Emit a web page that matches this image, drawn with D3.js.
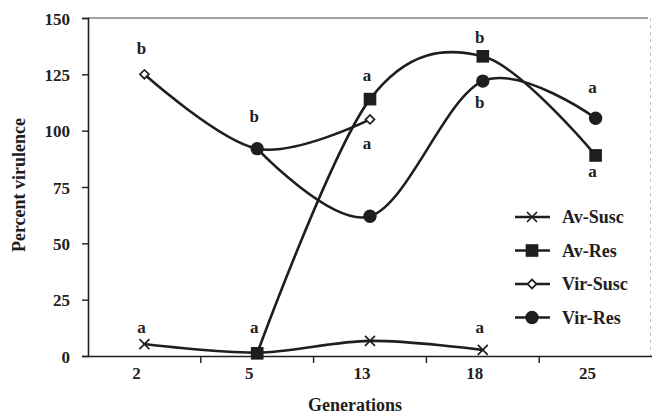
<!DOCTYPE html>
<html>
<head>
<meta charset="utf-8">
<script src="https://cdn.jsdelivr.net/npm/d3@7"></script>
<style>
  body { margin: 0; background: #fff; }
  svg text { font-family: 'Liberation Serif', 'Times New Roman', serif; font-weight: bold; }
  .tick text { font-size: 17px; fill: #222; }
</style>
</head>
<body>
<svg id="chart" width="652" height="414"></svg>
<script>
// generations on the x axis
const generations = ['2', '5', '13', '18', '25'];
const yTicks = [0, 25, 50, 75, 100, 125, 150];

// percent virulence per series (null = not measured)
const avSusc  = [5.3, 1.5, 6.7, 2.7, null];
const avRes   = [null, 1.2, 114, 133, 89];
const virSusc = [125, 92, 105, null, null];
const virRes  = [null, 92, 62, 122, 105.5];

const seriesNames = ['Av-Susc', 'Av-Res', 'Vir-Susc', 'Vir-Res'];

// significance letters
const sigText = ['b', 'b', 'a', 'a', 'b', 'b', 'a', 'a', 'a', 'a', 'a'];
const sigGen  = ['2', '5', '13', '13', '18', '18', '25', '25', '2', '5', '18'];
const sigY    = [136.5, 106, 124.5, 94, 141, 112.5, 119, 81.5, 12.5, 12.5, 12.5];

const svg = d3.select('#chart');
const mLeft = 88, mRight = 652, mTop = 18, mBottom = 356;

const x = d3.scaleBand().domain(generations).range([mLeft, mRight]).padding(0);
const y = d3.scaleLinear().domain([0, 150]).range([mBottom, mTop]);
const cx = (g) => x(g) + x.bandwidth() / 2;

const ink = '#1e1e1e';

// frame (top border and faint right border)
svg.append('line').attr('x1', mLeft).attr('x2', mRight - 4).attr('y1', mTop).attr('y2', mTop)
  .attr('stroke', '#444').attr('stroke-width', 1.2);
svg.append('line').attr('x1', mRight - 1.5).attr('x2', mRight - 1.5).attr('y1', mTop).attr('y2', mBottom)
  .attr('stroke', '#bbb').attr('stroke-width', 1).attr('stroke-dasharray', '3,4');

// y axis
const yAxis = svg.append('g')
  .attr('transform', `translate(${mLeft},0)`)
  .call(d3.axisLeft(y).tickValues(yTicks).tickSize(6).tickPadding(12));
yAxis.select('.domain').attr('stroke', ink).attr('stroke-width', 1.6);
yAxis.selectAll('.tick line').attr('stroke', ink).attr('stroke-width', 1.4);
yAxis.selectAll('.tick text').attr('dy', '0.36em');

// x axis: labels under category centres, ticks between categories
const xAxis = svg.append('g')
  .attr('transform', `translate(0,${mBottom})`)
  .call(d3.axisBottom(x).tickSize(0).tickPadding(11).tickSizeOuter(0));
xAxis.select('.domain').attr('stroke', ink).attr('stroke-width', 1.6);
xAxis.selectAll('.tick text').attr('dx', -8);
svg.append('g').selectAll('line')
  .data(generations.slice(1))
  .join('line')
  .attr('x1', (d) => x(d)).attr('x2', (d) => x(d))
  .attr('y1', mBottom).attr('y2', mBottom + 7)
  .attr('stroke', ink).attr('stroke-width', 1.4);

// axis titles
svg.append('text')
  .attr('transform', 'translate(25,185) rotate(-90)')
  .attr('text-anchor', 'middle')
  .style('font-size', '18px').attr('fill', ink)
  .text('Percent virulence');
svg.append('text')
  .attr('x', 355).attr('y', 411)
  .attr('text-anchor', 'middle')
  .style('font-size', '18px').attr('fill', ink)
  .text('Generations');

// markers
const timesPath = 'M-5,-5L5,5M-5,5L5,-5';
function marker(sel, idx) {
  if (idx === 0) {
    sel.append('path').attr('d', timesPath).attr('fill', 'none')
      .attr('stroke', ink).attr('stroke-width', 1.7);
  } else if (idx === 1) {
    sel.append('path').attr('d', d3.symbol(d3.symbolSquare, 160)).attr('fill', ink);
  } else if (idx === 2) {
    sel.append('path').attr('d', d3.symbol(d3.symbolSquare, 40)).attr('transform', 'rotate(45)')
      .attr('fill', '#fff').attr('stroke', ink).attr('stroke-width', 1.7);
  } else {
    sel.append('path').attr('d', d3.symbol(d3.symbolCircle, 140)).attr('fill', ink);
  }
}

const allSeries = [avSusc, avRes, virSusc, virRes];
const line = d3.line()
  .x((d) => cx(d.g))
  .y((d) => y(d.v))
  .curve(d3.curveCardinal.tension(0));

allSeries.forEach((vals, i) => {
  const pts = generations.map((g, j) => ({ g: g, v: vals[j] })).filter((d) => d.v !== null);
  svg.append('path')
    .datum(pts)
    .attr('d', line)
    .attr('fill', 'none')
    .attr('stroke', ink)
    .attr('stroke-width', 2.6);
});

allSeries.forEach((vals, i) => {
  const pts = generations.map((g, j) => ({ g: g, v: vals[j] })).filter((d) => d.v !== null);
  svg.append('g').selectAll('g')
    .data(pts)
    .join('g')
    .attr('transform', (d) => `translate(${cx(d.g)},${y(d.v)})`)
    .each(function () { marker(d3.select(this), i); });
});

// significance letters
svg.append('g').selectAll('text')
  .data(sigText.map((t, i) => ({ t: t, g: sigGen[i], v: sigY[i] })))
  .join('text')
  .attr('x', (d) => cx(d.g) - 3)
  .attr('y', (d) => y(d.v))
  .attr('dy', '0.3em')
  .attr('text-anchor', 'middle')
  .style('font-size', '17px')
  .attr('fill', ink)
  .text((d) => d.t);

// legend
const legend = svg.append('g').selectAll('g')
  .data(seriesNames)
  .join('g')
  .attr('transform', (d, i) => `translate(532,${217 + i * 33.5})`);
legend.append('line').attr('x1', -17).attr('x2', 18)
  .attr('stroke', ink).attr('stroke-width', 2.6);
legend.each(function (d, i) { marker(d3.select(this), i); });
legend.append('text')
  .attr('x', 30).attr('dy', '0.35em')
  .style('font-size', '18px')
  .attr('fill', ink)
  .text((d) => d);
</script>
</body>
</html>
